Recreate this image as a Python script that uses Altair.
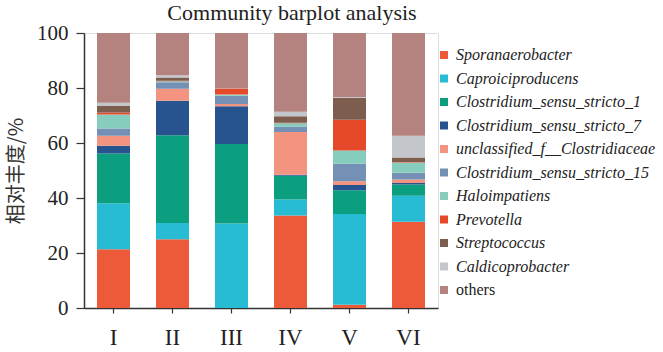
import altair as alt
import pandas as pd

samples = ["I", "II", "III", "IV", "V", "VI"]
taxa = ["Sporanaerobacter", "Caproiciproducens", "Clostridium_sensu_stricto_1",
        "Clostridium_sensu_stricto_7", "unclassified_f__Clostridiaceae",
        "Clostridium_sensu_stricto_15", "Haloimpatiens", "Prevotella",
        "Streptococcus", "Caldicoprobacter", "others"]
colors = ["#EC5A3A", "#27BCD3", "#0B9F80", "#27538F", "#F29480", "#7590B5",
          "#86CDBD", "#E6482A", "#7D5D4D", "#C3C6CA", "#B4837F"]

# values per taxon, one per sample (I..VI), relative abundance %
sporanaerobacter = [21.4, 25.0, 0.0, 33.6, 1.2, 31.4]
caproiciproducens = [16.7, 5.9, 30.7, 5.9, 33.0, 9.4]
css1 = [18.1, 31.9, 28.9, 8.6, 8.6, 4.1]
css7 = [2.8, 12.6, 13.8, 0.4, 1.9, 0.6]
unclassified = [3.6, 4.3, 0.8, 15.5, 1.4, 1.2]
css15 = [2.7, 2.4, 3.0, 1.9, 6.4, 2.5]
haloimpatiens = [5.1, 0.4, 0.4, 1.3, 4.8, 3.7]
prevotella = [0.7, 0.1, 2.2, 0.2, 11.2, 0.2]
streptococcus = [2.4, 1.2, 0.1, 2.3, 8.0, 1.6]
caldicoprobacter = [1.1, 0.8, 0.1, 1.7, 0.2, 7.9]
others = [25.4, 15.4, 20.0, 28.6, 23.3, 37.4]

series = [sporanaerobacter, caproiciproducens, css1, css7, unclassified, css15,
          haloimpatiens, prevotella, streptococcus, caldicoprobacter, others]

rows = []
for k, (t, vals) in enumerate(zip(taxa, series)):
    for s, v in zip(samples, vals):
        rows.append({"sample": s, "taxon": t, "value": v, "order": k})
df = pd.DataFrame(rows)

serif = "Liberation Serif"

chart = alt.Chart(df).mark_bar(size=33).encode(
    x=alt.X("sample:N", sort=samples, title=None,
            scale=alt.Scale(paddingInner=0.44, paddingOuter=0.22),
            axis=alt.Axis(labelAngle=0, labelFont=serif, labelFontSize=23,
                          labelColor="#222", labelPadding=13, tickSize=5,
                          tickColor="#333", domainColor="#333", domainWidth=1.5,
                          tickWidth=1.2)),
    y=alt.Y("value:Q", stack="zero", title="相对丰度/%",
            scale=alt.Scale(domain=[0, 100], nice=False),
            axis=alt.Axis(values=[0, 20, 40, 60, 80, 100], grid=False,
                          labelFont=serif, labelFontSize=21, labelColor="#222",
                          titleFont="Noto Sans CJK SC", titleFontSize=20,
                          titleFontWeight="normal", titleColor="#333",
                          titlePadding=10, tickSize=8, tickColor="#333",
                          domainColor="#333", domainWidth=1.5, tickWidth=1.2,
                          labelPadding=8)),
    color=alt.Color("taxon:N", scale=alt.Scale(domain=taxa, range=colors),
                    sort=taxa,
                    legend=alt.Legend(title=None, orient="none", legendX=352,
                                      legendY=14, symbolType="square",
                                      symbolSize=64, symbolStrokeWidth=0,
                                      labelFont=serif, labelFontSize=16,
                                      labelFontStyle=alt.ExprRef(
                                          "datum.label == 'others' ? 'normal' : 'italic'"),
                                      labelColor="#222",
                                      rowPadding=7.5, labelOffset=4,
                                      labelLimit=300)),
    order=alt.Order("order:Q", sort="ascending"),
).properties(
    width=354, height=275,
    title=alt.TitleParams("Community barplot analysis", font=serif, fontSize=22,
                          fontWeight="normal", color="#222", anchor="middle",
                          offset=-3, dx=31),
    autosize=alt.AutoSizeParams(type="none"),
    padding={"left": 84, "top": 33, "right": 225, "bottom": 44},
).configure_view(stroke=None).configure(background="white")

chart.save("out.html", embed_options={"renderer": "svg", "actions": False})
